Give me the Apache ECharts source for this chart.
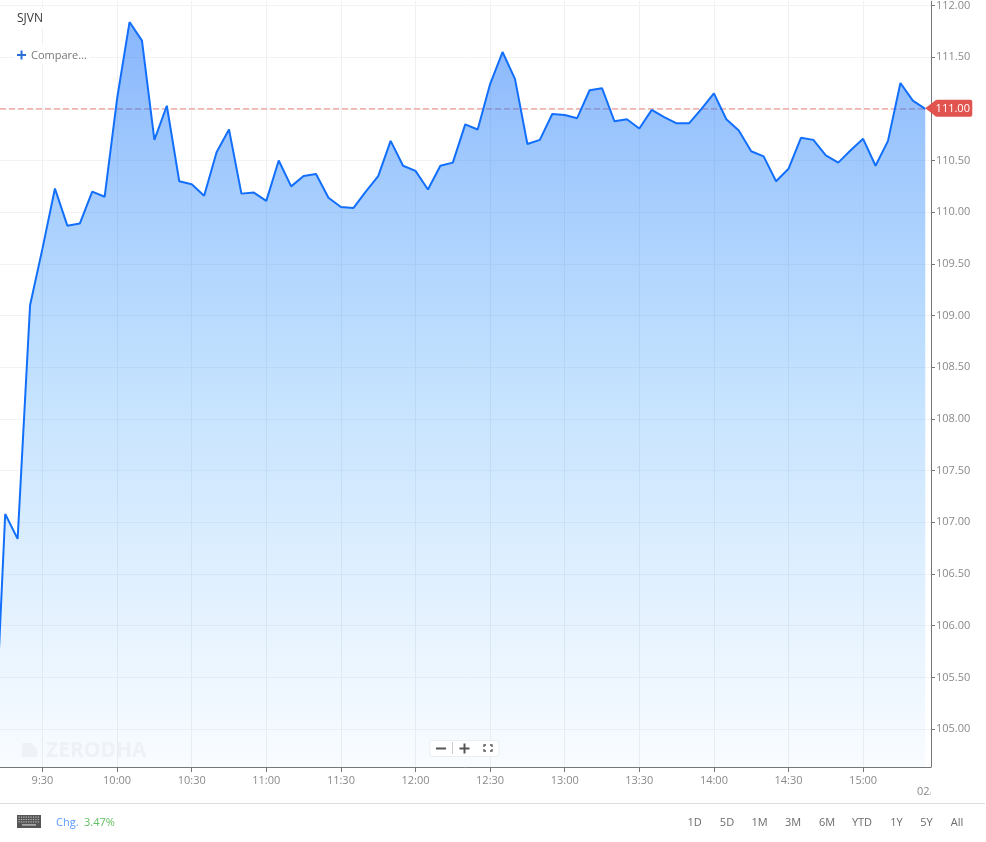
<!DOCTYPE html>
<html><head><meta charset="utf-8">
<style>html,body{margin:0;padding:0;background:#fff}#c{width:986px;height:842px}</style>
<script src="https://cdn.jsdelivr.net/npm/echarts@6/dist/echarts.min.js"></script>
</head><body><div id="c"></div>
<script>
const symbol = 'SJVN';
const lastPrice = 111.00;
const changePct = '3.47%';
const rangeButtons = ['1D','5D','1M','3M','6M','YTD','1Y','5Y','All'];
const rangeCentres = [694.7,727,759.5,793,827,862,896.5,926.5,957];
const timeTicks = ['9:30','10:00','10:30','11:00','11:30','12:00','12:30','13:00','13:30','14:00','14:30','15:00'];
const priceTicks = [105,105.5,106,106.5,107,107.5,108,108.5,109,109.5,110,110.5,111,111.5,112];
const times = ['9:10','9:15','9:20','9:25','9:30','9:35','9:40','9:45','9:50','9:55',
 '10:00','10:05','10:10','10:15','10:20','10:25','10:30','10:35','10:40','10:45','10:50','10:55',
 '11:00','11:05','11:10','11:15','11:20','11:25','11:30','11:35','11:40','11:45','11:50','11:55',
 '12:00','12:05','12:10','12:15','12:20','12:25','12:30','12:35','12:40','12:45','12:50','12:55',
 '13:00','13:05','13:10','13:15','13:20','13:25','13:30','13:35','13:40','13:45','13:50','13:55',
 '14:00','14:05','14:10','14:15','14:20','14:25','14:30','14:35','14:40','14:45','14:50','14:55',
 '15:00','15:05','15:10','15:15','15:20','15:25'];
const prices = [104.45,107.08,106.84,109.10,109.65,110.23,109.87,109.89,110.20,110.15,
 111.10,111.84,111.66,110.70,111.03,110.30,110.27,110.16,110.58,110.80,110.18,110.19,
 110.11,110.50,110.25,110.35,110.37,110.14,110.05,110.04,110.20,110.35,110.69,110.45,
 110.40,110.22,110.45,110.48,110.85,110.80,111.24,111.55,111.29,110.66,110.70,110.95,
 110.94,110.91,111.18,111.20,110.88,110.90,110.81,110.99,110.92,110.86,110.86,111.00,
 111.15,110.90,110.79,110.59,110.54,110.30,110.42,110.72,110.70,110.55,110.48,110.60,
 110.71,110.45,110.69,111.25,111.08,111.00];

const FONT = '"Open Sans", sans-serif';
const X_MIN = 552.91, X_MAX = 927.3;
const toMin = s => { const [h,m] = s.split(':').map(Number); return h*60+m; };
const toLabel = v => Math.floor(v/60) + ':' + String(Math.round(v%60)).padStart(2,'0');
const seriesData = times.map((t,i) => [toMin(t), prices[i]]);
const text = (x,y,t,fill,size,extra) => ({type:'text',x,y,silent:true,z:50,
  style:Object.assign({text:t,fill,font:size+'px '+FONT,textVerticalAlign:'middle'},extra||{})});
const rect = (x,y,w,h,fill,z) => ({type:'rect',silent:true,z:z||40,shape:{x,y,width:w,height:h},style:{fill}});
const stroke = pts => ({type:'polyline',silent:true,z:41,shape:{points:pts},style:{stroke:'#555',fill:null,lineWidth:1.3}});

const keyboard = [rect(17,815,24,13,'#555')];
for (let r=0;r<3;r++) for (let c=0;c<9;c++) keyboard.push(rect(18.5+c*2.4,816.5+r*2.4,1.2,1.2,'#bbb',41));
keyboard.push(rect(22,824.2,14,1.4,'#bbb',41));

const chart = echarts.init(document.getElementById('c'),null,{renderer:'canvas'});
chart.setOption({
  animation:false,
  backgroundColor:'#fff',
  grid:{left:0,top:0,width:931,height:767,containLabel:false},
  xAxis:{type:'value',min:X_MIN,max:X_MAX,
    axisLine:{show:true,onZero:false,lineStyle:{color:'#777',width:1}},
    axisTick:{show:true,length:5,lineStyle:{color:'#777'},customValues:timeTicks.map(toMin)},
    axisLabel:{color:'#8a8a8a',fontFamily:FONT,fontSize:11,margin:8,hideOverlap:false,
      customValues:timeTicks.map(toMin),formatter:v=>toLabel(v)},
    splitLine:{show:true,lineStyle:{color:'#eef0f3',width:1}}},
  yAxis:{type:'value',position:'right',min:104.633,max:112.0415,
    axisLine:{show:true,lineStyle:{color:'#777',width:1}},
    axisTick:{show:true,length:4,lineStyle:{color:'#777'},customValues:priceTicks},
    axisLabel:{color:'#8a8a8a',fontFamily:FONT,fontSize:11,margin:5,hideOverlap:false,padding:[0,0,2,0],
      customValues:priceTicks,formatter:v=>v.toFixed(2)},
    splitLine:{show:true,lineStyle:{color:'#f2f3f5',width:1}}},
  series:[
   {type:'line',name:'last',data:[[X_MIN,lastPrice],[X_MAX,lastPrice]],symbol:'none',z:2,silent:true,
    lineStyle:{color:'#ea8f8b',opacity:0.9,type:[6,3],width:1.4}},
   {type:'line',data:seriesData,symbol:'none',smooth:false,clip:true,z:3,
    lineStyle:{color:'#126ffb',width:2},
    areaStyle:{origin:'start',opacity:1,color:{type:'linear',global:true,x:0,y:20,x2:0,y2:767,
      colorStops:[{offset:0,color:'rgba(18,108,250,0.5)'},{offset:0.5,color:'rgba(40,150,252,0.27)'},{offset:1,color:'rgba(60,160,255,0.03)'}]}},
    markPoint:{silent:true,animation:false,
      data:[{coord:[toMin(times[times.length-1]),lastPrice],
        symbol:'path://M0 8.5 L9 1.5 Q10 0 12 0 L45 0 Q47 0 47 2 L47 15 Q47 17 45 17 L12 17 Q10 17 9 15.5 Z',
        symbolSize:[47,17],symbolOffset:[23.5,-0.5],symbolKeepAspect:false,
        itemStyle:{color:'#e0534f'},
        label:{show:true,position:'inside',offset:[4,0],color:'#fff',fontFamily:FONT,fontSize:11,
          formatter:()=>lastPrice.toFixed(2)}}]}
   }],
  graphic:[
    rect(14,8,33,21,'#fff'),
    text(17,19,symbol,'#3a3a3a',12),
    rect(14,45,76,20,'#fff'),
    rect(17,54,9,2,'#2a6fd6'),rect(20.5,50.5,2,9,'#2a6fd6'),
    text(31,56,'Compare...','#777',11),
    text(46,751,'ZERODHA','#eef2f6',20,{font:'bold 21px '+FONT}),
    {type:'polygon',silent:true,z:39,shape:{points:[[22,743],[32,743],[37,749],[37,757],[22,757]]},style:{fill:'#eef2f6'}},
    {type:'rect',silent:true,z:40,shape:{x:430,y:740.5,width:69,height:16,r:2},
      style:{fill:'rgba(255,255,255,0.9)',stroke:'#eceef0',lineWidth:1}},
    rect(436,747.5,10,2,'#555'),
    rect(452,742,1,12,'#ccc'),
    rect(459.5,747.5,10,2,'#555'),rect(463.5,743.5,2,10,'#555'),
    stroke([[484,747],[484,745],[486,745]]),
    stroke([[490,745],[492,745],[492,747]]),
    stroke([[484,749],[484,751],[486,751]]),
    stroke([[490,751],[492,751],[492,749]]),
    text(917,792,'02/','#8a8a8a',11),
    rect(930.5,784,20,16,'#fff',55),
    rect(0,803,985,1,'#dddddd'),
    ...keyboard,
    text(56,823,'Chg.','#5b9bff',11),
    text(84,823,changePct,'#62bf62',11),
    ...rangeButtons.map((b,i)=>text(rangeCentres[i],823,b,'#6b6b6b',11,{textAlign:'center'}))
  ]
});
</script></body></html>
